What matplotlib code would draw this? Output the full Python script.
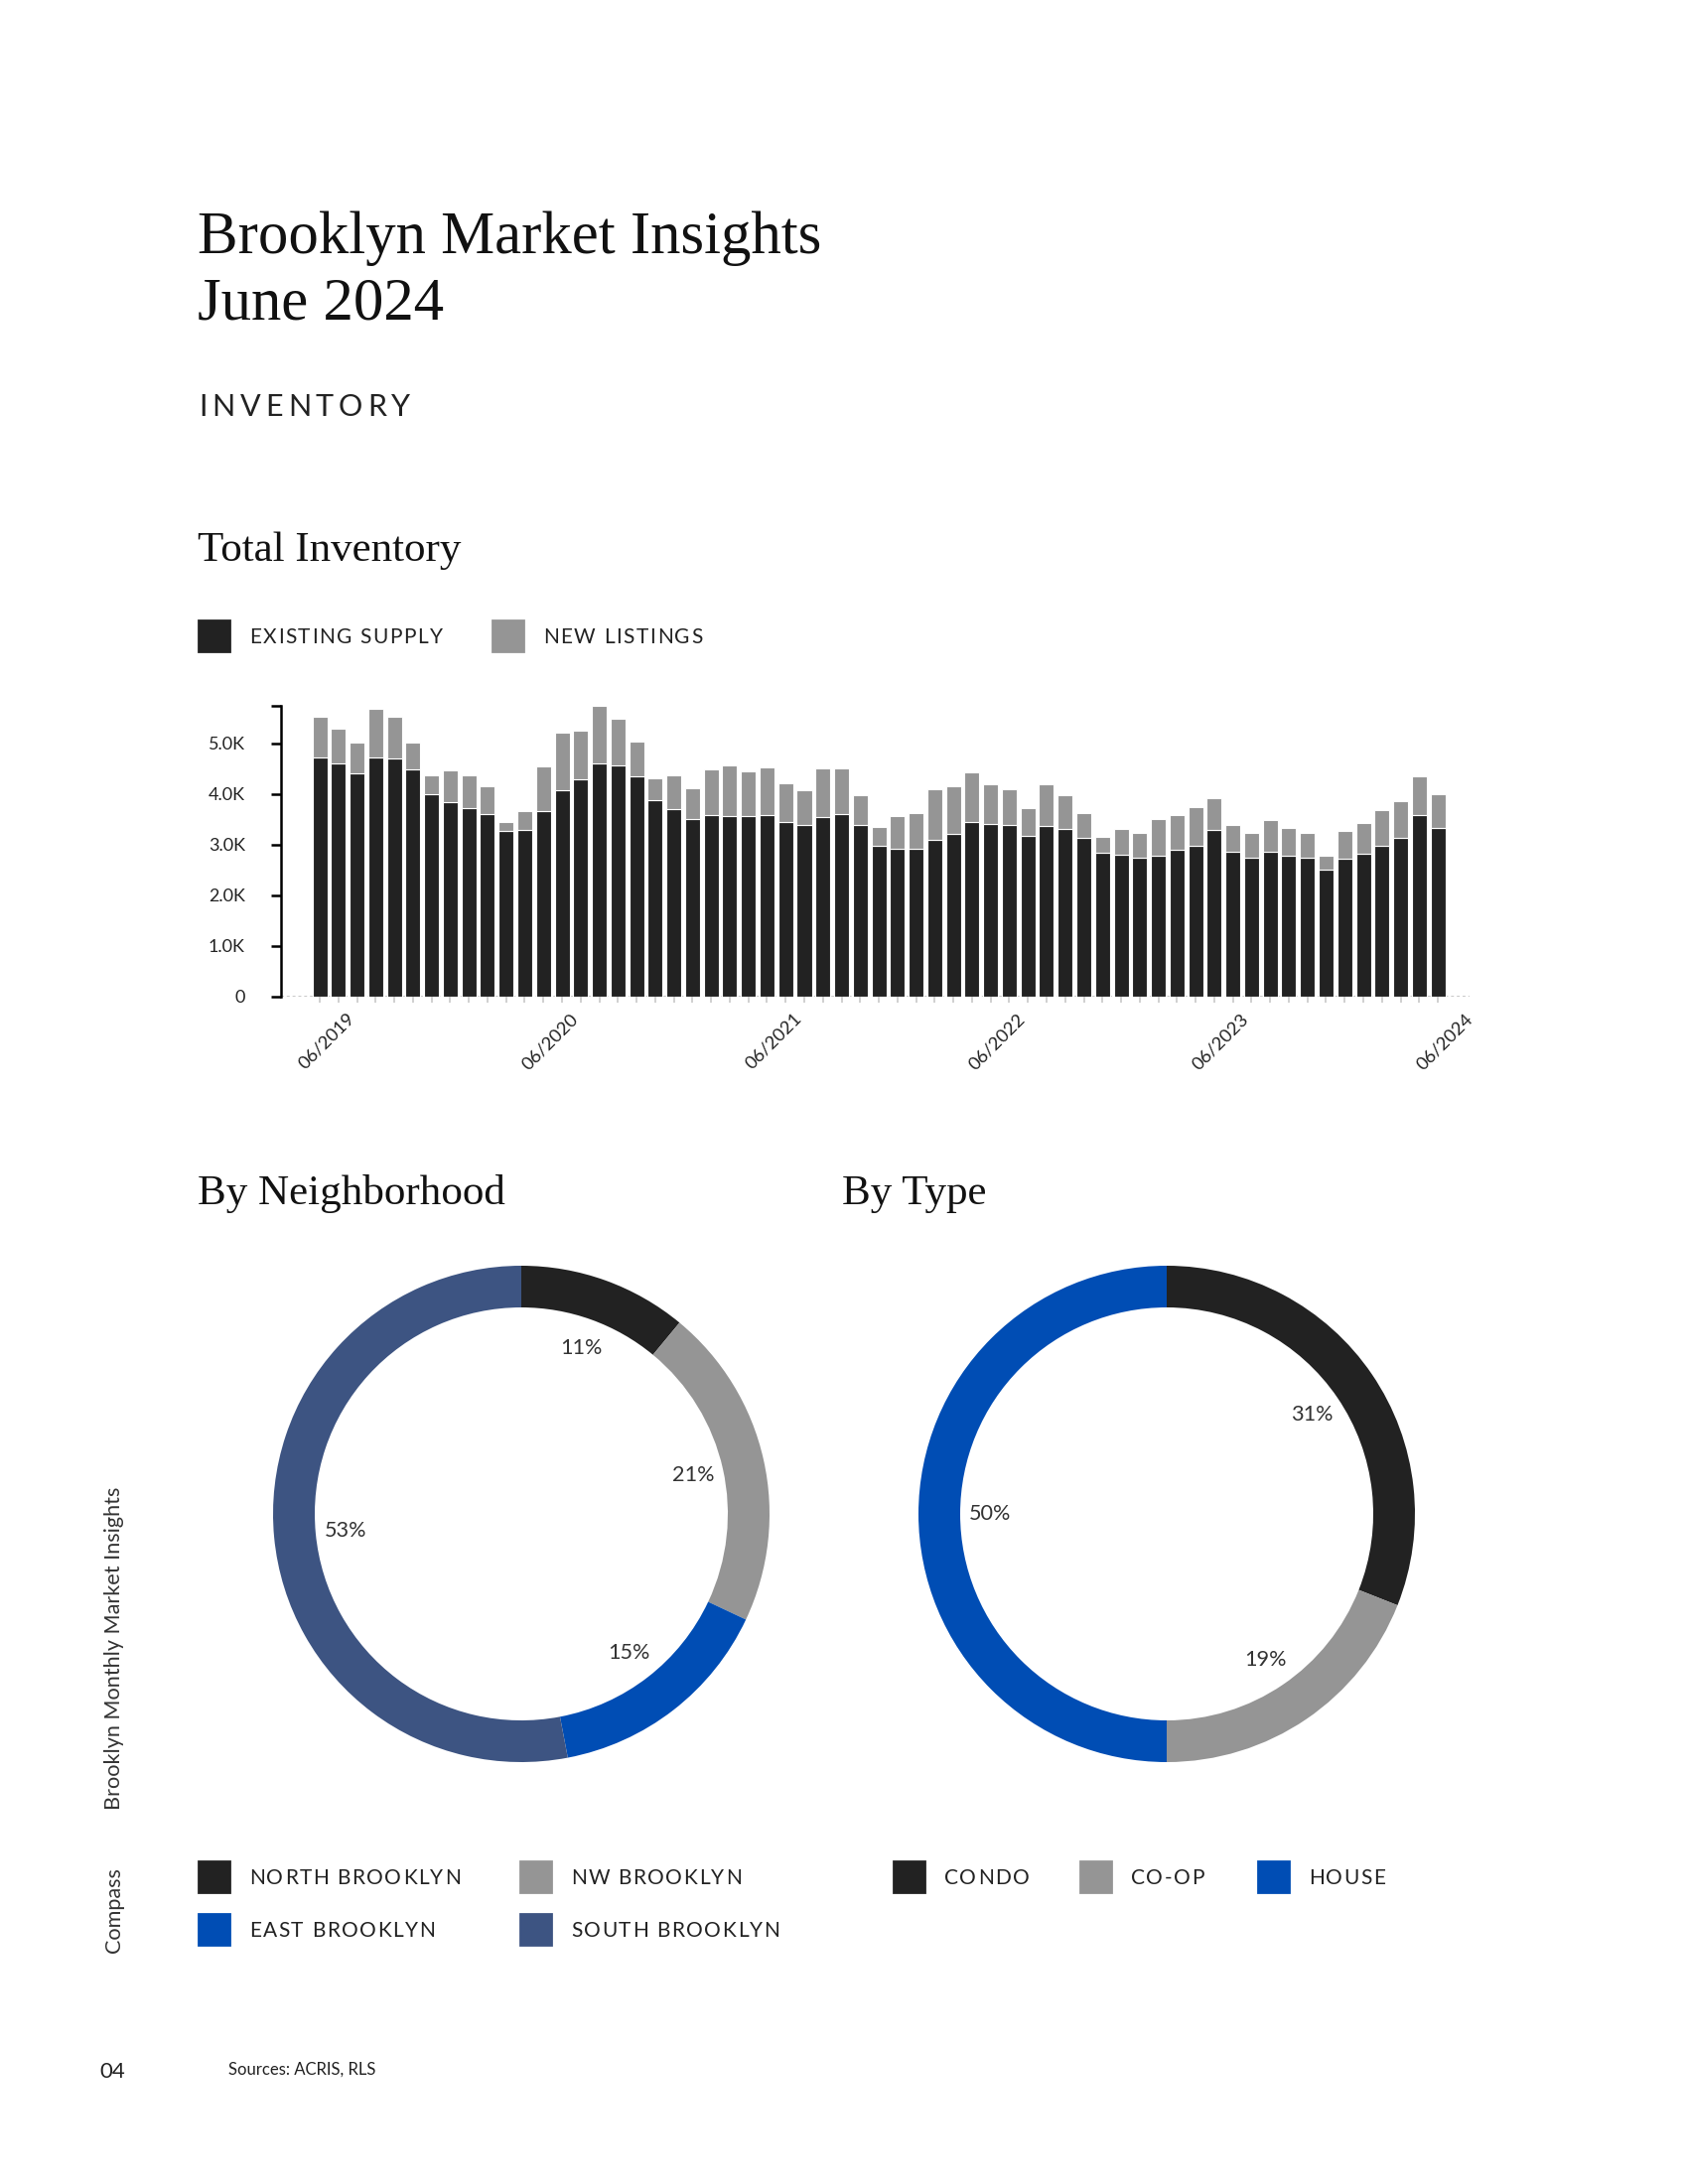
import matplotlib
matplotlib.use("Agg")
import matplotlib.pyplot as plt
import matplotlib.transforms as mtransforms
from matplotlib.font_manager import FontProperties
from matplotlib.patches import Rectangle
from matplotlib.textpath import TextToPath
import numpy as np

# ---- data -------------------------------------------------------------
# monthly inventory, 06/2019 .. 06/2024
existing_supply = [
    4720, 4600, 4410, 4730, 4700, 4490, 4000, 3830, 3720, 3610, 3280, 3300,
    3670, 4070, 4290, 4600, 4560, 4340, 3870, 3710, 3500, 3580, 3560, 3560,
    3580, 3440, 3380, 3540, 3610, 3380, 2970, 2910, 2910, 3100, 3220, 3440,
    3410, 3380, 3170, 3370, 3310, 3130, 2840, 2800, 2740, 2790, 2900, 2970,
    3300, 2860, 2740, 2860, 2780, 2740, 2510, 2730, 2820, 2970, 3130, 3580,
    3340,
]
new_listings = [
    810, 680, 600, 950, 820, 520, 370, 640, 650, 550, 170, 370,
    880, 1140, 960, 1140, 930, 690, 440, 660, 610, 910, 1010, 890,
    950, 780, 690, 970, 900, 590, 380, 660, 710, 990, 930, 980,
    790, 710, 550, 830, 670, 500, 310, 520, 490, 710, 690, 770,
    610, 530, 500, 630, 560, 500, 270, 540, 610, 720, 730, 770,
    650,
]
tick_months = [0, 12, 24, 36, 48, 60]
tick_labels = ["06/2019", "06/2020", "06/2021", "06/2022", "06/2023", "06/2024"]
y_ticks = [0, 1000, 2000, 3000, 4000, 5000]
y_tick_labels = ["0", "1.0K", "2.0K", "3.0K", "4.0K", "5.0K"]

neighborhoods = ["NORTH BROOKLYN", "NW BROOKLYN", "EAST BROOKLYN", "SOUTH BROOKLYN"]
neighborhood_share = [11, 21, 15, 53]

property_types = ["CONDO", "CO-OP", "HOUSE"]
type_share = [31, 19, 50]

# ---- style ------------------------------------------------------------
W, H, DPI = 1700, 2200, 200
SANS = "Lato"
SERIF = "Liberation Serif"
DARK = "#222222"
GRAY = "#959595"
BLUE = "#004DB4"
NAVY = "#3D5482"
neighborhood_colors = [DARK, GRAY, BLUE, NAVY]
type_colors = [DARK, GRAY, BLUE]

T2P = TextToPath()


def fx(px):
    return px / W


def fy(py):
    return 1 - py / H


def advance_px(ch, prop):
    w1 = T2P.get_text_width_height_descent("x" + ch + "x", prop, ismath=False)[0]
    w0 = T2P.get_text_width_height_descent("xx", prop, ismath=False)[0]
    return (w1 - w0) * DPI / 72


def tracked_text(fig, x, y, s, size, tracking_em, color="#222222"):
    """Draw letter-spaced text; x, y in pixels (y = baseline)."""
    prop = FontProperties(family=SANS, size=size)
    em_px = size * DPI / 72
    for ch in s:
        if ch != " ":
            fig.text(fx(x), fy(y), ch, fontproperties=prop, color=color,
                     ha="left", va="baseline")
        x += advance_px(ch, prop) + tracking_em * em_px


def legend_row(fig, items, colors, xs_box, y_box, size=7.5):
    for label, color, xb in zip(items, colors, xs_box):
        fig.patches.append(Rectangle((fx(xb), fy(y_box + 31)), 31 / W, 31 / H,
                                     transform=fig.transFigure, color=color))
        tracked_text(fig, xb + 51, y_box + 23, label, size, 0.075)


def donut(fig, x0, y0, values, colors):
    ax = fig.add_axes([fx(x0), fy(y0 + 500), 500 / W, 500 / H])
    ax.pie(values, colors=colors, startangle=90, counterclock=False,
           radius=1, wedgeprops=dict(width=0.168, edgecolor="none"),
           autopct=lambda p: f"{p:.0f}%", pctdistance=0.71,
           textprops=dict(fontsize=7.8, color="#333333", family=SANS))
    ax.set_xlim(-1, 1)
    ax.set_ylim(-1, 1)
    ax.set_aspect("equal")
    ax.axis("off")
    return ax


fig = plt.figure(figsize=(W / DPI, H / DPI), dpi=DPI)
fig.patch.set_facecolor("white")

# ---- headings ---------------------------------------------------------
fig.text(fx(199), fy(255), "Brooklyn Market Insights", family=SERIF,
         fontsize=21.9, color="#111111", va="baseline")
fig.text(fx(199), fy(322), "June 2024", family=SERIF,
         fontsize=21.9, color="#111111", va="baseline")
tracked_text(fig, 200, 419, "INVENTORY", 11, 0.16)
fig.text(fx(199), fy(565), "Total Inventory", family=SERIF,
         fontsize=15.5, color="#111111", va="baseline")

legend_row(fig, ["EXISTING SUPPLY", "NEW LISTINGS"], [DARK, GRAY], [200, 496], 625)

# ---- bar chart --------------------------------------------------------
existing = np.array(existing_supply)
new = np.array(new_listings)
totals = existing + new
x = np.arange(len(existing))

ax = fig.add_axes([fx(283), fy(1004), (1480 - 283) / W, (1004 - 711) / H])
ax.axhline(0, color="#c8c8c8", linestyle=(0, (1.5, 1.5)), lw=0.7, zorder=1)
ax.bar(x, existing, width=0.8, color=DARK, edgecolor="white", linewidth=0.4, zorder=3)
ax.bar(x, new, width=0.8, bottom=existing, color=GRAY, edgecolor="white",
       linewidth=0.4, zorder=3)

ax.set_xlim(-2.08, 61.7)
ax.set_ylim(0, totals.max())
for side in ["top", "right", "bottom"]:
    ax.spines[side].set_visible(False)
ax.spines["left"].set_linewidth(0.9)
ax.spines["left"].set_color("black")

ax.set_yticks(y_ticks + [totals.max()])
ax.set_yticklabels(y_tick_labels + [""])
ax.tick_params(axis="y", length=3.6, width=0.9, color="black", pad=9.4,
               labelsize=6.5, labelcolor="#222222")

ax.set_xticks(tick_months)
ax.set_xticklabels(tick_labels, rotation=45, ha="right")
ax.set_xticks(x, minor=True)
ax.tick_params(axis="x", which="both", length=2, width=0.6, color="#c8c8c8",
               pad=3, labelsize=6.6, labelcolor="#222222")
offset = mtransforms.ScaledTranslation(38 / DPI, 0, fig.dpi_scale_trans)
for lab in ax.get_xticklabels() + ax.get_yticklabels():
    lab.set_family(SANS)
for lab in ax.get_xticklabels():
    lab.set_transform(lab.get_transform() + offset)

# ---- donuts -----------------------------------------------------------
fig.text(fx(199), fy(1213), "By Neighborhood", family=SERIF,
         fontsize=15.5, color="#111111", va="baseline")
fig.text(fx(848), fy(1213), "By Type", family=SERIF,
         fontsize=15.5, color="#111111", va="baseline")

donut(fig, 275, 1275, neighborhood_share, neighborhood_colors)
donut(fig, 925, 1275, type_share, type_colors)

legend_row(fig, neighborhoods[:2], neighborhood_colors[:2], [200, 524], 1875)
legend_row(fig, neighborhoods[2:], neighborhood_colors[2:], [200, 524], 1928)
legend_row(fig, property_types, type_colors, [900, 1088, 1267], 1875)

# ---- page furniture ---------------------------------------------------
fig.text(fx(115), fy(1823), "Brooklyn Monthly Market Insights", family=SANS,
         fontsize=7.8, color="#333333", rotation=90, ha="center", va="bottom")
fig.text(fx(115), fy(1967), "Compass", family=SANS,
         fontsize=7.8, color="#333333", rotation=90, ha="center", va="bottom")
fig.text(fx(100), fy(2093), "04", family=SANS, fontsize=8,
         color="#222222", va="baseline")
fig.text(fx(230), fy(2090), "Sources: ACRIS, RLS", family=SANS, fontsize=6,
         color="#222222", va="baseline")

fig.savefig("out.png", dpi=DPI, facecolor="white")
